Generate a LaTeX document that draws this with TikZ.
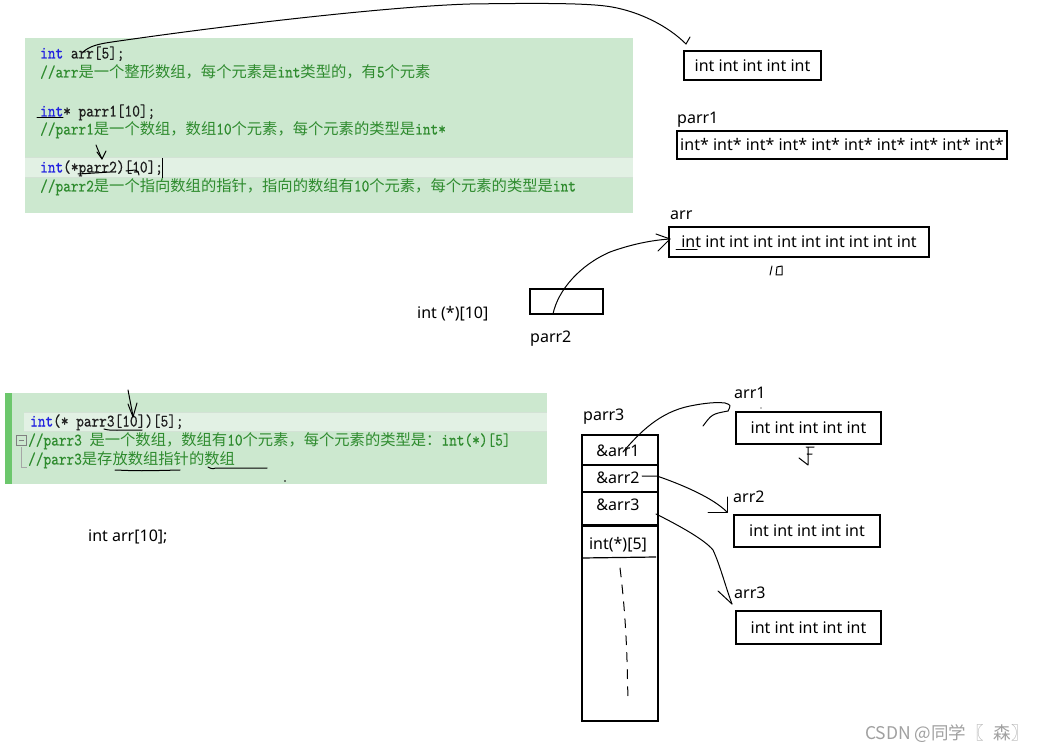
\documentclass[tikz,border=0pt]{standalone}
\usepackage{fontspec}
\setmainfont{Noto Sans}
\newfontfamily\zhfont{Noto Sans CJK SC}
\newfontfamily\codefont{lmmono10-regular}[Extension=.otf,FakeStretch=0.835,FakeBold=0.4]
\definecolor{bg}{HTML}{CCE8CF}
\definecolor{hl}{HTML}{E2F1E4}
\definecolor{hlb}{HTML}{D3E2D5}
\definecolor{bar}{HTML}{6CC76C}
\definecolor{kw}{HTML}{2222E0}
\definecolor{cmt}{HTML}{2E8B2E}
\definecolor{codec}{HTML}{1E1E1E}
\definecolor{wm}{HTML}{A0A0A0}
\newcommand\kwd[1]{\textcolor{kw}{#1}}
\newcommand\zh[1]{{\zhfont\fontsize{15.3}{19}\selectfont #1}}
\begin{document}
\begin{tikzpicture}[x=1pt,y=-1pt,
  code/.style={anchor=base west, inner sep=0pt, font=\codefont\fontsize{17.5}{19}\selectfont, text=codec},
  cmtline/.style={code, text=cmt},
  lbl/.style={anchor=base west, inner sep=0pt, font=\fontsize{16}{19}\selectfont},
  box/.style={draw, line width=1.8pt, inner sep=0pt, font=\fontsize{16}{19}\selectfont},
  celltext/.style={inner sep=0pt, font=\fontsize{16}{19}\selectfont},
  hand/.style={line width=1pt, line cap=round, line join=round},
]
\fill[white] (0,0) rectangle (1039,751);
\useasboundingbox (0,0) rectangle (1039,751);

% ---------- top code block ----------
\fill[bg] (25,38) rectangle (633,213);
\fill[hl] (25,157) rectangle (633,177);
\draw[hlb, line width=0.8pt] (25,157) -- (633,157) (25,177) -- (633,177);
\node[code] (l1) at (40,58.5) {\kwd{int} arr[5];};
\node[cmtline] (l2) at (40,77.5) {//arr\zh{是一个整形数组，每个元素是}int\zh{类型的，有}5\zh{个元素}};
\node[code] (l3) at (40,116.5) {\kwd{int}* parr1[10];};
\node[cmtline] (l4) at (40,134.5) {//parr1\zh{是一个数组，数组}10\zh{个元素，每个元素的类型是}int*};
\node[code] (l5) at (40,172.5) {\kwd{int}(*parr2)[10];};
\node[cmtline] (l6) at (40,191.5) {//parr2\zh{是一个指向数组的指针，指向的数组有}10\zh{个元素，每个元素的类型是}int};
\draw[line width=1pt] (162.5,158) -- (162.5,178);

% ---------- bottom code block ----------
\fill[bg] (5,393) rectangle (547,484);
\fill[bar] (5,393) rectangle (12,484);
\fill[hl] (24,412) rectangle (547,431);
\draw[hlb, line width=0.8pt] (24,412) -- (547,412) (24,431) -- (547,431);
\draw[gray, line width=0.7pt] (16,435) rectangle (26,445);
\draw[gray, line width=0.7pt] (18.5,440) -- (23.5,440);
\draw[gray!70, line width=0.8pt] (21.5,447) -- (21.5,467) -- (27,467);
\node[code] (m1) at (30,426.5) {\kwd{int}(* parr3[10])[5];};
\node[cmtline] (m2) at (28,445.5) {//parr3 \zh{是一个数组，数组有}10\zh{个元素，每个元素的类型是：}int(*)[5]};
\node[cmtline] (m3) at (28,464.5) {//parr3\zh{是存放数组指针的数组}};

\node[lbl] (decl) at (88,541) {int arr[10];};

% ---------- right side boxes ----------
\node[box, minimum width=137pt, minimum height=29pt] (b5) at (752.5,65.5) {int int int int int};
\node[lbl] (lp1) at (677,124) {parr1};
\node[box, minimum width=330pt, minimum height=28pt] (bp1) at (842,145) {int* int* int* int* int* int* int* int* int* int*};
\node[lbl] (larr) at (670,220) {arr};
\node[box, minimum width=260pt, minimum height=30pt] (barr) at (799,242) {int int int int int int int int int int};
\node[lbl] (lint) at (417,319) {int (*)[10]};
\node[draw, line width=1.8pt, minimum width=73pt, minimum height=25pt, inner sep=0pt] (bp2) at (566.5,301.5) {};
\node[lbl] (lp2) at (530,343) {parr2};

% parr3 stack
\node[lbl] (lp3) at (583,420) {parr3};
\node[draw, line width=1.8pt, minimum width=76pt, minimum height=286pt, inner sep=0pt] (stack) at (620,578) {};
\draw[line width=1.8pt] (582,465) -- (658,465);
\draw[line width=1.8pt] (582,492) -- (658,492);
\draw[line width=2.4pt] (582,525.5) -- (658,525.5);
\draw[line width=1.2pt] (582,558) -- (656,557);
\node[celltext] (c1) at (618,451) {\&arr1};
\node[celltext] (c2) at (618,478) {\&arr2};
\node[celltext] (c3) at (618,505) {\&arr3};
\node[celltext] (c4) at (618,545) {int(*)[5]};
\draw[hand, dash pattern=on 9pt off 8pt] (620,568) .. controls (624,600) and (626,630) .. (627,660) -- (628,700);

\node[lbl] (la1) at (734,398) {arr1};
\node[box, minimum width=145pt, minimum height=32pt] (ba1) at (808.5,428) {int int int int int};
\node[lbl] (la2) at (733,502) {arr2};
\node[box, minimum width=146pt, minimum height=32pt] (ba2) at (807,531) {int int int int int};
\node[lbl] (la3) at (734,598) {arr3};
\node[box, minimum width=145pt, minimum height=33pt] (ba3) at (808.5,627.5) {int int int int int};

\node[anchor=base west, inner sep=0pt, text=wm, font=\zhfont\fontsize{17.5}{20}\selectfont] (wm) at (865,739) {CSDN @同学〖\hspace{10pt}森〗};

% ---------- handwritten strokes ----------
\coordinate (a0) at (83,52);
\coordinate (a0t) at (686,44);
\draw[hand] (a0) .. controls (90,46) and (98,44) .. (112,42) .. controls (250,22) and (400,6) .. (470,4) .. controls (540,3) and (590,3) .. (612,7) .. controls (640,12) and (668,26) .. (a0t);
\draw[hand] (a0t) -- (690,37);

\draw[hand] (37,118) -- (63,118);

\draw[hand] (96,145) .. controls (98,150) .. (102,159);
\draw[hand] (97,152) -- (102,159) -- (106,151);
\draw[hand] (78,174) .. controls (95,173) .. (110,172);
\draw[hand] (126,171) -- (135,170) .. controls (138,171) .. (139,175);

\draw[hand] (128,390) -- (133,416);
\draw[hand] (128,404) -- (133,417) -- (137,403);
\draw[hand] (104,429) .. controls (110,431) and (120,430) .. (142,430);
\draw[hand] (115,470) .. controls (140,471) .. (180,470);
\draw[hand] (208,467) .. controls (212,469) .. (216,468) -- (267,468);
\fill (285,481) circle (0.8);

\draw[hand] (676,250) -- (697,250);
\draw[hand] (770,275) -- (772,266);
\draw[hand] (776,275) -- (777,267) -- (782,266) -- (782,275) -- cycle;

\coordinate (p2s) at (553,314);
\coordinate (p2t) at (670,239);
\draw[hand] (p2s) .. controls (558,290) and (580,265) .. (610,252) .. controls (635,243) and (655,240) .. (p2t);
\draw[hand] (656,234) -- (p2t) -- (658,251);

\coordinate (s1) at (623,452);
\coordinate (t1) at (728,411);
\draw[hand] (s1) .. controls (640,432) and (660,412) .. (690,406) .. controls (705,403) and (716,402) .. (725,403) .. controls (731,405) .. (t1);
\draw[hand] (703,426) .. controls (712,414) .. (t1);
\fill (761,408) circle (0.6);
\draw[hand] (806,447) -- (814,447) (808,447) -- (808,465) -- (799,458) (807,454) -- (812,454);

\coordinate (s2) at (642,476);
\coordinate (t2) at (727,512);
\draw[hand] (s2) -- (657,476) .. controls (680,484) and (712,497) .. (t2);
\draw[hand] (727,497) -- (t2) -- (708,512);

\coordinate (s3) at (656,514);
\coordinate (t3) at (732,604);
\draw[hand] (s3) .. controls (680,526) and (705,540) .. (713,550) .. controls (720,565) and (725,585) .. (t3);
\draw[hand] (718,591) -- (t3);
\end{tikzpicture}
\end{document}
